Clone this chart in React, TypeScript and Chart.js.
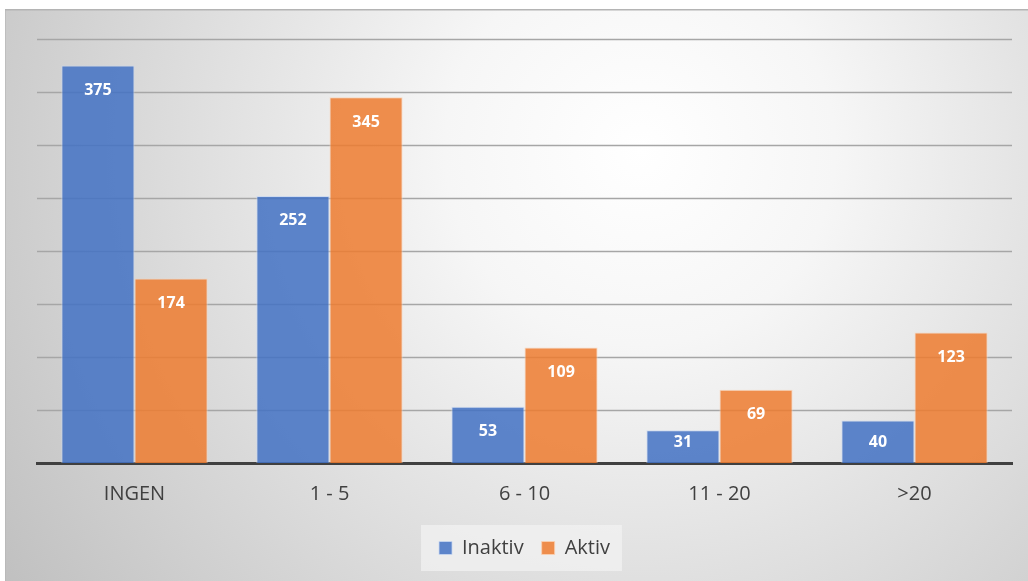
import React, { useEffect, useRef } from "react";
import { Chart, registerables } from "chart.js";

Chart.register(...registerables);

const categories = ["INGEN", "1 - 5", "6 - 10", "11 - 20", ">20"];
const inaktiv = [375, 252, 53, 31, 40];
const aktiv = [174, 345, 109, 69, 123];
const gridValues = [50, 100, 150, 200, 250, 300, 350, 400];

const FONT = "'Open Sans', 'Liberation Sans', sans-serif";

const bgPlugin = {
  id: "bgPlugin",
  beforeDraw(chart: any) {
    const ctx = chart.ctx;
    const w = chart.width;
    const h = chart.height;
    ctx.save();
    ctx.fillStyle = "#ffffff";
    ctx.fillRect(0, 0, w, h);
    const g = ctx.createRadialGradient(640, 150, 0, 640, 150, 780);
    g.addColorStop(0, "#ffffff");
    g.addColorStop(0.25, "#f6f6f6");
    g.addColorStop(1, "#bfbfbf");
    ctx.fillStyle = g;
    ctx.fillRect(5, 9, w - 5, h - 9);
    ctx.fillStyle = "#b4b4b4";
    ctx.fillRect(5, 9, w - 5, 1.5);
    ctx.fillStyle = "rgba(180,180,180,0.6)";
    ctx.fillRect(5, 9, 1, h - 9);

    // legend background
    const hb = chart.legend && chart.legend.legendHitBoxes;
    if (hb && hb.length) {
      const first = hb[0];
      const last = hb[hb.length - 1];
      const x0 = first.left - 18;
      const x1 = last.left + last.width + 12;
      const cy = first.top + first.height / 2;
      ctx.fillStyle = "rgba(242,242,242,0.75)";
      ctx.fillRect(x0, cy - 23, x1 - x0, 46);
    }

    // gridlines
    const y = chart.scales.y;
    const area = chart.chartArea;
    ctx.strokeStyle = "#a6a6a6";
    ctx.lineWidth = 1.3;
    gridValues.forEach((v) => {
      const py = Math.round(y.getPixelForValue(v)) + 0.5;
      ctx.beginPath();
      ctx.moveTo(area.left, py);
      ctx.lineTo(area.right, py);
      ctx.stroke();
    });
    ctx.restore();
  },
};

const labelPlugin = {
  id: "labelPlugin",
  afterDatasetsDraw(chart: any) {
    const ctx = chart.ctx;
    ctx.save();
    ctx.fillStyle = "#ffffff";
    ctx.font = `bold 16px ${FONT}`;
    ctx.textAlign = "center";
    ctx.textBaseline = "middle";
    chart.data.datasets.forEach((ds: any, di: number) => {
      const meta = chart.getDatasetMeta(di);
      meta.data.forEach((bar: any, i: number) => {
        const ly = Math.min(bar.y + 25, bar.base - 21);
        ctx.fillText(String(ds.data[i]), bar.x, ly);
      });
    });
    ctx.restore();
  },
};

export default function App() {
  const ref = useRef<HTMLCanvasElement | null>(null);

  useEffect(() => {
    if (!ref.current) return;
    const chart = new Chart(ref.current, {
      type: "bar",
      data: {
        labels: categories,
        datasets: [
          {
            label: "Inaktiv",
            data: inaktiv,
            backgroundColor: "rgba(68,114,196,0.86)",
            borderColor: "rgba(200,215,240,0.8)",
            borderWidth: 1,
            categoryPercentage: 0.75,
            barPercentage: 1,
          },
          {
            label: "Aktiv",
            data: aktiv,
            backgroundColor: "rgba(237,125,49,0.86)",
            borderColor: "rgba(250,210,180,0.8)",
            borderWidth: 1,
            categoryPercentage: 0.75,
            barPercentage: 1,
          },
        ],
      },
      options: {
        responsive: false,
        animation: false,
        layout: { padding: { left: 37, right: 16, top: 39, bottom: 13 } },
        scales: {
          x: {
            grid: { display: false, drawTicks: false },
            border: { display: true, color: "#404040", width: 3 },
            ticks: {
              color: "#404040",
              font: { family: FONT, size: 20 },
              padding: 19,
            },
            afterFit: (s: any) => {
              s.height -= 5;
            },
          },
          y: {
            display: false,
            min: 0,
            max: 400,
          },
        },
        plugins: {
          legend: {
            position: "bottom",
            labels: {
              color: "#404040",
              font: { family: FONT, size: 20 },
              boxWidth: 13,
              boxHeight: 13,
              padding: 18,
            },
          },
          tooltip: { enabled: false },
        },
      },
      plugins: [bgPlugin, labelPlugin],
    });
    return () => chart.destroy();
  }, []);

  return (
    <div style={{ position: "fixed", left: 0, top: 0, width: 1028, height: 581 }}>
      <canvas ref={ref} width={1028} height={581} />
    </div>
  );
}
